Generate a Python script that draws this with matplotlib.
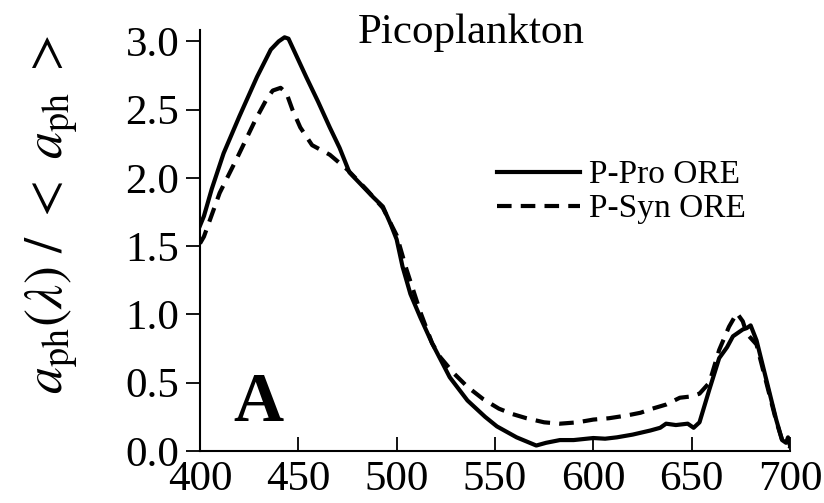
import matplotlib
matplotlib.use("Agg")
import matplotlib.pyplot as plt

plt.rcParams["font.family"] = ["Liberation Serif", "DejaVu Serif"]
plt.rcParams["mathtext.fontset"] = "stix"

# P-Pro ORE (solid)
wl_pro = [400, 402, 406, 412, 420, 429, 436, 440, 443, 445, 454, 460, 466, 471,
          476, 482, 488, 493, 497, 500, 503, 507, 512, 518, 527, 536, 545, 551,
          556, 561, 566, 571, 576, 583, 590, 600, 606, 612, 620, 629, 634, 637,
          642, 648, 651, 654, 659, 664, 668, 671, 674, 676, 678, 680, 683, 688,
          693, 696, 698, 699, 700]
pro = [1.65, 1.72, 1.92, 2.18, 2.45, 2.74, 2.94, 3.00, 3.03, 3.02, 2.74, 2.56,
       2.37, 2.22, 2.04, 1.95, 1.86, 1.79, 1.66, 1.55, 1.35, 1.15, 0.98, 0.79,
       0.54, 0.37, 0.25, 0.18, 0.14, 0.10, 0.07, 0.04, 0.06, 0.08, 0.08, 0.095,
       0.09, 0.10, 0.12, 0.15, 0.17, 0.20, 0.19, 0.20, 0.17, 0.21, 0.45, 0.68,
       0.76, 0.84, 0.87, 0.89, 0.90, 0.92, 0.81, 0.52, 0.23, 0.08, 0.06, 0.10,
       0.04]

# P-Syn ORE (dashed)
wl_syn = [400, 402, 410, 419, 428, 434, 437, 441, 444, 447, 451, 457, 466, 475,
          485, 493, 500, 505, 512, 518, 522, 529, 536, 544, 552, 559, 566, 575,
          583, 592, 600, 608, 617, 624, 630, 637, 644, 650, 654, 659, 664, 669,
          673, 676, 678, 683, 688, 693, 696, 698, 700]
syn = [1.52, 1.57, 1.89, 2.15, 2.42, 2.58, 2.64, 2.66, 2.62, 2.50, 2.37, 2.24,
       2.17, 2.06, 1.91, 1.78, 1.58, 1.33, 1.02, 0.79, 0.69, 0.57, 0.47, 0.38,
       0.31, 0.27, 0.24, 0.21, 0.20, 0.21, 0.23, 0.24, 0.26, 0.28, 0.31, 0.34,
       0.39, 0.40, 0.42, 0.50, 0.74, 0.91, 1.01, 0.95, 0.86, 0.78, 0.50, 0.22,
       0.08, 0.05, 0.03]

x_ticks = [400, 450, 500, 550, 600, 650, 700]
y_ticks = [0.0, 0.5, 1.0, 1.5, 2.0, 2.5, 3.0]


def main() -> None:
    fig = plt.figure(figsize=(8.24, 5.03), dpi=100)
    ax = fig.add_axes([0.2427, 0.1034, 0.716, 0.836])

    ax.plot(wl_pro, pro, color="black", lw=3.0, label="P-Pro ORE")
    ax.plot(wl_syn, syn, color="black", lw=3.0, linestyle=(0, (3.5, 2.2)),
            label="P-Syn ORE")

    ax.set_xlim(400, 700)
    ax.set_ylim(0, 3.08)
    ax.set_xticks(x_ticks)
    ax.set_yticks(y_ticks)
    ax.set_yticklabels([f"{v:.1f}" for v in y_ticks])
    ax.spines["top"].set_visible(False)
    ax.spines["right"].set_visible(False)
    for s in ("left", "bottom"):
        ax.spines[s].set_linewidth(1.5)
    ax.tick_params(axis="y", direction="out", length=10, width=1.3,
                   labelsize=31, pad=5)
    ax.tick_params(axis="x", direction="in", length=10, width=1.3,
                   labelsize=31, pad=7)

    ax.text(416.8, 0.22, "A", fontsize=50, fontweight="bold", va="baseline")

    fig.text(0.572, 1 - 43 / 503, "Picoplankton", fontsize=31,
             ha="center", va="baseline")
    fig.text(0.062, 1 - 215 / 503,
             r"$a_{\rm ph}(\lambda)\ /\ <\ a_{\rm ph}\ >$",
             fontsize=39, rotation=90, ha="center", va="center")

    leg = ax.legend(loc="upper left", bbox_to_anchor=(0.603, 0.682),
                    bbox_transform=fig.transFigure, frameon=False, fontsize=24,
                    handlelength=2.5, handletextpad=0.25, labelspacing=0.1,
                    borderpad=0, borderaxespad=0)
    for line in leg.get_lines():
        line.set_linewidth(3.0)

    fig.savefig("out.png", dpi=100)
    plt.close(fig)


if __name__ == "__main__":
    main()
